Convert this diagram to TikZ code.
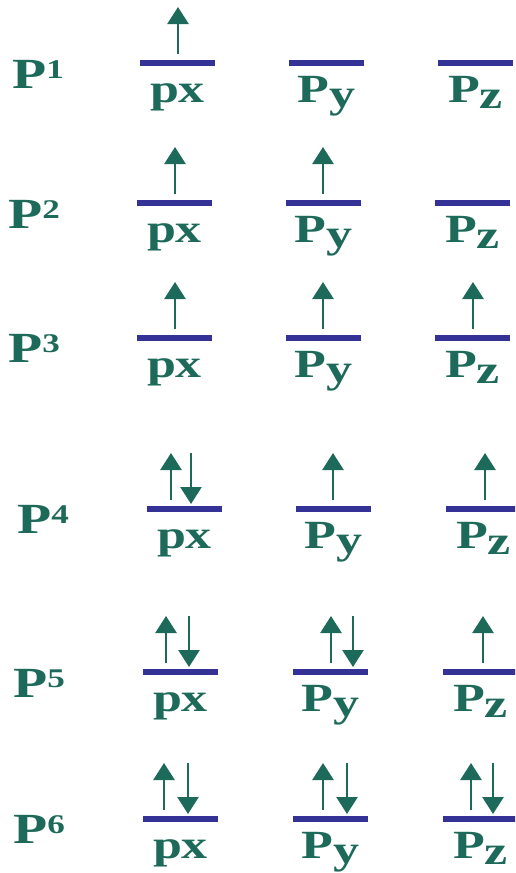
\documentclass[tikz,border=0pt]{standalone}
\usepackage{fontspec}
\usepackage{graphicx}
\setmainfont{Liberation Serif}
\usetikzlibrary{arrows.meta}
\definecolor{txt}{RGB}{30,106,90}
\definecolor{lvl}{RGB}{52,50,150}
\tikzset{
  level/.style={draw=lvl, line width=5.5pt},
  spin/.style={draw=txt, line width=2.6pt, -{Triangle[width=21pt,length=17pt]}},
  orb/.style={text=txt, font=\fontsize{40}{40}\selectfont\bfseries, inner sep=0pt, anchor=base},
  rowlab/.style={text=txt, font=\fontsize{43}{43}\selectfont\bfseries, inner sep=0pt, anchor=base west},
}
\newcommand\wide[1]{\scalebox{1.3}[1]{#1}}
\newcommand\orbital[4]{%
  \coordinate (#1a) at (#2,#3);
  \coordinate (#1b) at (#2+75,#3);
  \draw[level] (#1a) -- (#1b);
  \node[orb] (#1t) at (#2+37.5,#3+39) {\wide{#4}};
}
\newcommand\spinup[3]{%
  \coordinate (#1s) at (#2,#3-9);
  \coordinate (#1e) at (#2,#3-56);
  \draw[spin] (#1s) -- (#1e);
}
\newcommand\spindn[3]{%
  \coordinate (#1s) at (#2,#3-56);
  \coordinate (#1e) at (#2,#3-5);
  \draw[spin] (#1s) -- (#1e);
}
\newcommand\PX{px}
\newcommand\PY{P\raisebox{-5pt}{y}}
\newcommand\PZ{P\raisebox{-6pt}{z}}
\newcommand\RL[1]{\wide{P\raisebox{10pt}{\fontsize{27}{27}\selectfont #1}}}
\begin{document}
\begin{tikzpicture}[x=1pt,y=-1pt]
  \fill[white] (0,0) rectangle (515,873);
  \useasboundingbox (0,0) rectangle (515,873);
  \clip (0,0) rectangle (515,873);
  % row 1
  \node[rowlab] (l1) at (12,88) {\RL{1}};
  \orbital{r1x}{140}{63}{\PX}
  \orbital{r1y}{289}{63}{\PY}
  \orbital{r1z}{438}{63}{\PZ}
  \spinup{r1xu}{178}{63}
  % row 2
  \node[rowlab] (l2) at (8,228) {\RL{2}};
  \orbital{r2x}{137}{203}{\PX}
  \orbital{r2y}{286}{203}{\PY}
  \orbital{r2z}{435}{203}{\PZ}
  \spinup{r2xu}{175}{203}
  \spinup{r2yu}{323}{203}
  % row 3
  \node[rowlab] (l3) at (8,362) {\RL{3}};
  \orbital{r3x}{137}{338}{\PX}
  \orbital{r3y}{286}{338}{\PY}
  \orbital{r3z}{435}{338}{\PZ}
  \spinup{r3xu}{175}{338}
  \spinup{r3yu}{323}{338}
  \spinup{r3zu}{473}{338}
  % row 4
  \node[rowlab] (l4) at (17,533) {\RL{4}};
  \orbital{r4x}{147}{509}{\PX}
  \orbital{r4y}{296}{509}{\PY}
  \orbital{r4z}{446}{509}{\PZ}
  \spinup{r4xu}{171}{509}
  \spindn{r4xd}{191}{509}
  \spinup{r4yu}{333}{509}
  \spinup{r4zu}{485}{509}
  % row 5
  \node[rowlab] (l5) at (13,697) {\RL{5}};
  \orbital{r5x}{143}{672}{\PX}
  \orbital{r5y}{293}{672}{\PY}
  \orbital{r5z}{443}{672}{\PZ}
  \spinup{r5xu}{166}{672}
  \spindn{r5xd}{189}{672}
  \spinup{r5yu}{331}{672}
  \spindn{r5yd}{353}{672}
  \spinup{r5zu}{483}{672}
  % row 6
  \node[rowlab] (l6) at (13,843) {\RL{6}};
  \orbital{r6x}{143}{819}{\PX}
  \orbital{r6y}{293}{819}{\PY}
  \orbital{r6z}{443}{819}{\PZ}
  \spinup{r6xu}{164}{819}
  \spindn{r6xd}{188}{819}
  \spinup{r6yu}{323}{819}
  \spindn{r6yd}{347}{819}
  \spinup{r6zu}{471}{819}
  \spindn{r6zd}{493}{819}
\end{tikzpicture}
\end{document}
